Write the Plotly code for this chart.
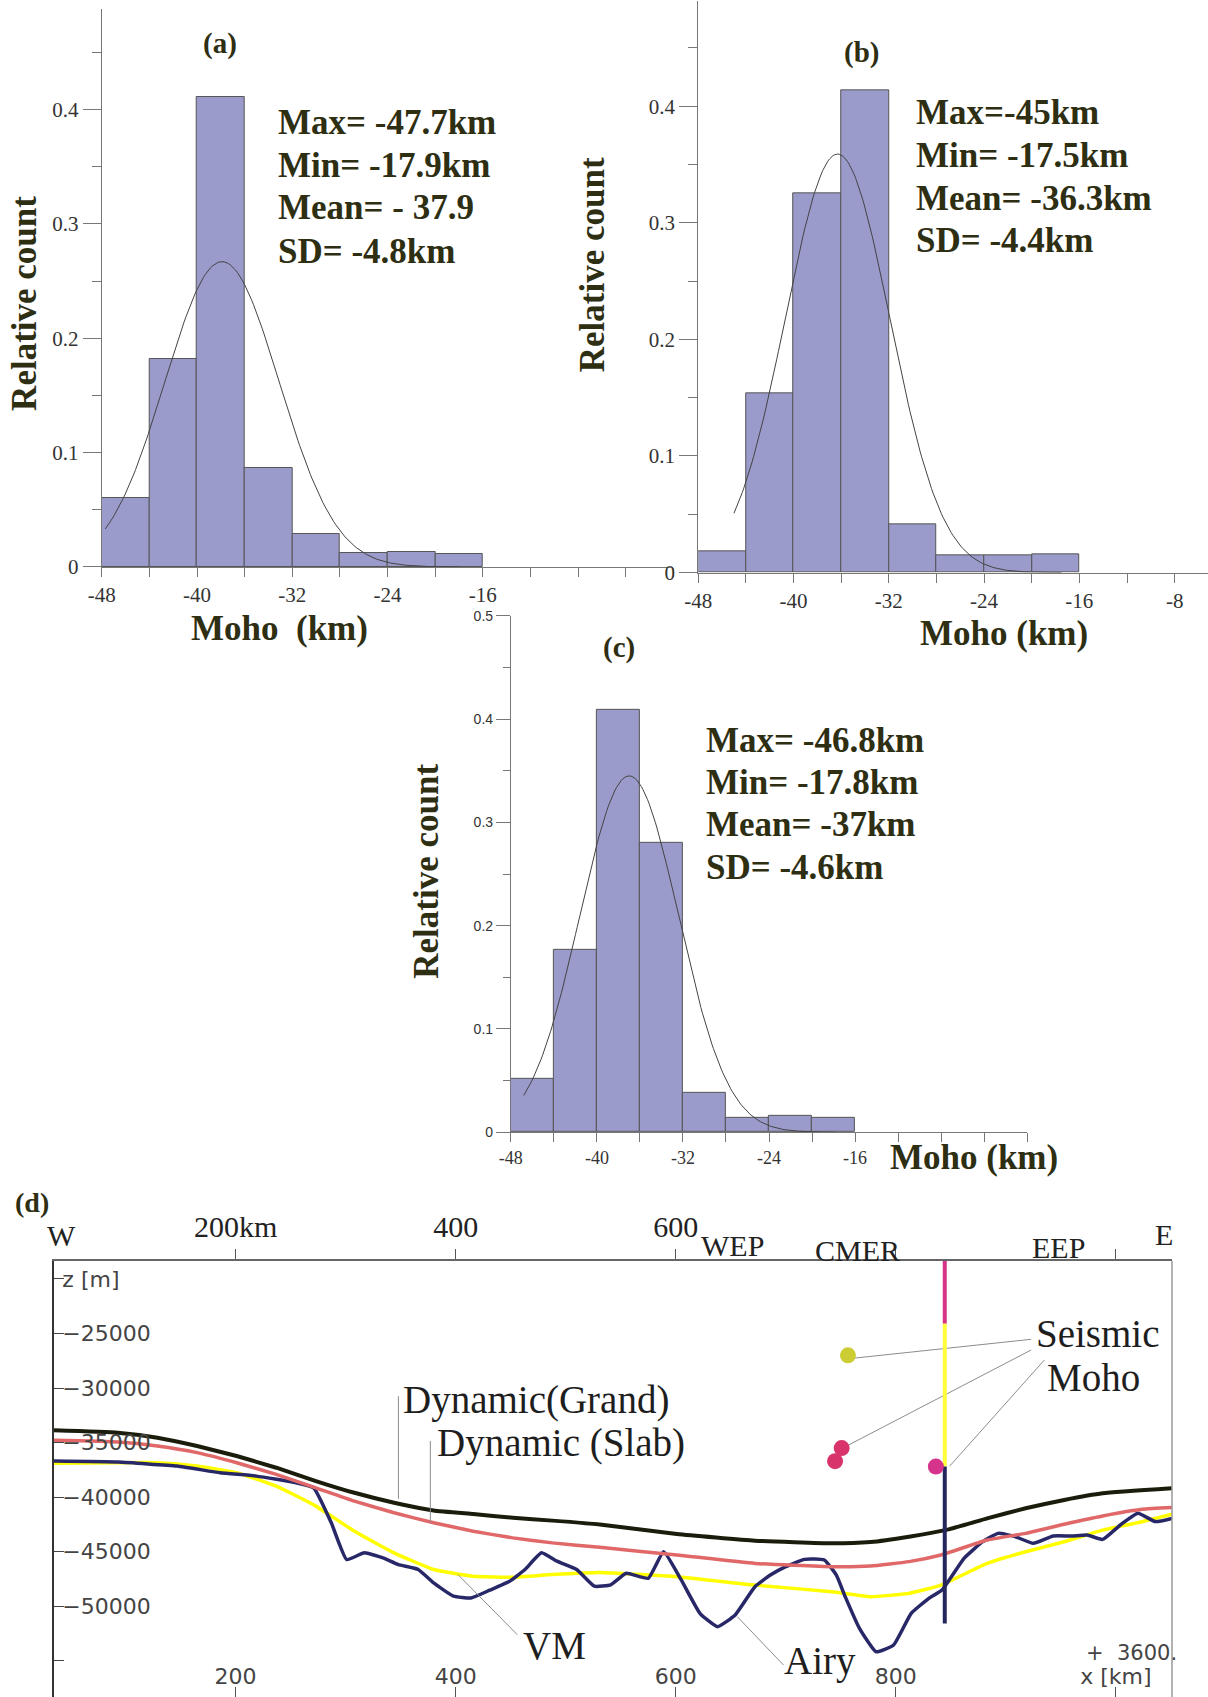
import numpy as np
import plotly.graph_objects as go

# ---------------- Histograms of Moho depth (panels a, b, c) ----------------
bin_edges = [-48, -44, -40, -36, -32, -28, -24, -20, -16]
rel_count_a = [0.060, 0.182, 0.411, 0.087, 0.029, 0.012, 0.013, 0.011]
rel_count_b = [0.018, 0.154, 0.325, 0.414, 0.041, 0.015, 0.015, 0.016]
rel_count_c = [0.052, 0.177, 0.409, 0.280, 0.038, 0.014, 0.016, 0.014]

# printed statistics (km) for a, b, c
stat_max = [-47.7, -45.0, -46.8]
stat_min = [-17.9, -17.5, -17.8]
stat_mean = [-37.9, -36.3, -37.0]
stat_sd = [4.8, 4.4, 4.6]
fit_peak = [0.267, 0.359, 0.345]          # height of the fitted normal curve

stat_lines_a = ["Max= -47.7km", "Min= -17.9km", "Mean= - 37.9", "SD= -4.8km"]
stat_lines_b = ["Max=-45km", "Min= -17.5km", "Mean= -36.3km", "SD= -4.4km"]
stat_lines_c = ["Max= -46.8km", "Min= -17.8km", "Mean= -37km", "SD= -4.6km"]

hist_ytick_vals = [0, 0.1, 0.2, 0.3, 0.4]
hist_ytick_text = ["0", "0.1", "0.2", "0.3", "0.4"]

# ---------------- Profile W-E (panel d) ----------------
grand_km = [35, 93, 129, 165, 201, 237, 273, 308, 344, 380, 416, 452, 488, 531,
            601, 672, 742, 777, 812, 848, 883, 918, 953, 988, 1051]
grand_z = [-33870, -34090, -34550, -35310, -36230, -37300, -38520, -39600, -40510,
           -41220, -41550, -41890, -42150, -42500, -43380, -43990, -44230, -44110,
           -43620, -42950, -41940, -41020, -40260, -39650, -39190]

slab_km = [35, 93, 129, 165, 201, 237, 273, 308, 344, 380, 416, 452, 488, 531,
           601, 672, 742, 777, 812, 841, 883, 918, 953, 988, 1024, 1051]
slab_z = [-34790, -34950, -35310, -35920, -36840, -37910, -39140, -40360, -41430,
          -42350, -43120, -43730, -44190, -44600, -45300, -46070, -46370, -46310,
          -45910, -45300, -43930, -43320, -42480, -41720, -41110, -40950]

vm_km = [35, 93, 129, 165, 201, 237, 273, 308, 344, 380, 416, 452, 488, 531,
         601, 672, 742, 777, 812, 841, 883, 918, 953, 988, 1024, 1051]
vm_z = [-36900, -36840, -36840, -37150, -37760, -38980, -40820, -43120, -45100,
        -46630, -47250, -47340, -47090, -46900, -47290, -48060, -48670, -49120,
        -48820, -48060, -46070, -45000, -44090, -43020, -42250, -41570]

airy_km = [35, 93, 147, 186, 219, 255, 271, 287, 301, 317, 334, 348, 366, 380,
           398, 414, 431, 449, 463, 478, 492, 510, 526, 541, 555, 575, 589, 605,
           622, 638, 654, 672, 686, 700, 717, 735, 746, 754, 767, 782, 798, 814,
           830, 842, 862, 879, 893, 907, 925, 943, 960, 974, 988, 1004, 1020,
           1036, 1051]
airy_z = [-36690, -36780, -37150, -37760, -38070, -38680, -39140, -42350, -45720,
          -45100, -45560, -46180, -46630, -47860, -49080, -49240, -48530, -47710,
          -46630, -45100, -45870, -46630, -48160, -48030, -46980, -47440, -45000,
          -47590, -50650, -51870, -50800, -48210, -47140, -46370, -45700, -45760,
          -47140, -49120, -52030, -54170, -53550, -50650, -49280, -48510, -45610,
          -44080, -43320, -43560, -44230, -43560, -43560, -43470, -43870, -42550,
          -41480, -42240, -41940]

# seismic Moho column and point estimates
column_km = 844.5
column_z_breaks = [-18300, -24100, -37200, -51570]
column_colors = ["#d63384", "#ffff3c", "#26265e"]

seis_pt_km = [756.5, 750.8, 744.8, 836.4]
seis_pt_z = [-27000, -35500, -36700, -37200]
seis_pt_colors = ["#cccc33", "#d8336a", "#d8336a", "#d6338c"]

# leader lines tying the labels to the curves
leader_km = [[348, 348], [377, 377], [402, 456], [656, 698],
             [923, 761], [923, 754], [935, 849]]
leader_z = [[-30750, -40150], [-34850, -42350], [-47090, -52600], [-50960, -55390],
            [-25530, -27270], [-26510, -35380], [-27430, -37150]]

profile_ytick_vals = [-55000, -50000, -45000, -40000, -35000, -30000, -25000, -20000]
profile_ytick_text = ["", "\u221250000", "\u221245000", "\u221240000", "\u221235000",
                      "\u221230000", "\u221225000", "z [m]"]
profile_xtick_vals = [200, 400, 600, 800, 1000]
profile_xtick_text = ["200", "400", "600", "800", "x [km]"]
profile_toptick_text = ["200km", "400", "600", "", ""]

SERIF = "Liberation Serif"
SANS = "DejaVu Sans"
TXT = "#2e2e12"
BAR_FILL = "#9a9acb"
BAR_LINE = "#555555"
AX = "#777777"

fig = go.Figure()

centers = [(bin_edges[i] + bin_edges[i + 1]) / 2 for i in range(len(bin_edges) - 1)]
hist_sets = [(rel_count_a, "x", "y"), (rel_count_b, "x2", "y2"), (rel_count_c, "x3", "y3")]
for k, (vals, xa, ya) in enumerate(hist_sets):
    fig.add_trace(go.Bar(x=centers, y=vals, width=4, xaxis=xa, yaxis=ya,
                         marker=dict(color=BAR_FILL, line=dict(color=BAR_LINE, width=1)),
                         showlegend=False, hoverinfo="skip"))
    xs = np.linspace(stat_max[k], stat_min[k], 200)
    ys = fit_peak[k] * np.exp(-((xs - stat_mean[k]) ** 2) / (2 * stat_sd[k] ** 2))
    fig.add_trace(go.Scatter(x=xs, y=ys, mode="lines", xaxis=xa, yaxis=ya,
                             line=dict(color="#444444", width=1),
                             showlegend=False, hoverinfo="skip"))

# profile curves
profile_lines = [
    (vm_km, vm_z, "#ffff00", 3.5),
    (airy_km, airy_z, "#282868", 3.5),
    (slab_km, slab_z, "#e06868", 3.5),
    (grand_km, grand_z, "#1c1c0c", 4),
]
for km, z, col, w in profile_lines:
    fig.add_trace(go.Scatter(x=km, y=z, mode="lines", xaxis="x4", yaxis="y4",
                             line=dict(color=col, width=w, shape="spline", smoothing=0.4),
                             showlegend=False, hoverinfo="skip"))

for kx, kz in zip(leader_km, leader_z):
    fig.add_trace(go.Scatter(x=kx, y=kz, mode="lines", xaxis="x4", yaxis="y4",
                             line=dict(color="#8c8c8c", width=1),
                             showlegend=False, hoverinfo="skip"))

for i, col in enumerate(column_colors):
    fig.add_trace(go.Scatter(x=[column_km, column_km],
                             y=[column_z_breaks[i], column_z_breaks[i + 1]],
                             mode="lines", xaxis="x4", yaxis="y4",
                             line=dict(color=col, width=4),
                             showlegend=False, hoverinfo="skip"))

fig.add_trace(go.Scatter(x=seis_pt_km[1:3], y=seis_pt_z[1:3], mode="lines",
                         xaxis="x4", yaxis="y4", line=dict(color="#e03030", width=3),
                         showlegend=False, hoverinfo="skip"))
fig.add_trace(go.Scatter(x=seis_pt_km, y=seis_pt_z, mode="markers", xaxis="x4", yaxis="y4",
                         marker=dict(color=seis_pt_colors, size=16, line=dict(width=0)),
                         showlegend=False, hoverinfo="skip"))

# invisible trace so the top distance axis is laid out
fig.add_trace(go.Scatter(x=[profile_xtick_vals[0]], y=[profile_ytick_vals[-1]],
                         mode="markers", xaxis="x5", yaxis="y4",
                         marker=dict(opacity=0), showlegend=False, hoverinfo="skip"))


# ---------------- axes ----------------
def hist_xaxis(domain, rng, labelled, tick_font_size, anchor):
    vals = list(range(-48, int(rng[1]) + 1, 4))
    text = [f"{v}" if v in labelled else "" for v in vals]
    return dict(domain=domain, range=rng, anchor=anchor, tickmode="array",
                tickvals=vals, ticktext=text, ticks="outside", ticklen=9,
                tickcolor=AX, showline=True, linecolor=AX, linewidth=1,
                showgrid=False, zeroline=False, automargin=False,
                tickfont=dict(family=SERIF, size=tick_font_size, color="#333333"))


def hist_yaxis(domain, rng, anchor, tickvals, ticktext, font, size, ticklen):
    minor_vals = [v + 0.05 for v in tickvals if v + 0.05 < rng[1]]
    return dict(domain=domain, range=rng, anchor=anchor, tickmode="array",
                tickvals=tickvals, ticktext=ticktext, ticks="outside", ticklen=ticklen,
                tickcolor=AX, showline=True, linecolor=AX, linewidth=1,
                showgrid=False, zeroline=False, automargin=False,
                minor=dict(tickvals=minor_vals, ticks="outside", ticklen=ticklen // 2,
                           tickcolor=AX),
                tickfont=dict(family=font, size=size, color="#333333"))


layout_axes = dict(
    xaxis=hist_xaxis([0.0842, 0.5575], [-48, 0], [-48, -40, -32, -24, -16], 21, "y"),
    yaxis=hist_yaxis([0.6659, 0.9947], [0, 0.488], "x", hist_ytick_vals, hist_ytick_text,
                     SERIF, 21, 18),
    xaxis2=hist_xaxis([0.578, 1.0], [-48, -5.2], [-48, -40, -32, -24, -16, -8], 21, "y2"),
    yaxis2=hist_yaxis([0.6626, 0.9992], [0, 0.49], "x2", hist_ytick_vals, hist_ytick_text,
                      SERIF, 21, 18),
    xaxis3=hist_xaxis([0.4229, 0.8503], [-48, 0], [-48, -40, -32, -24, -16], 18, "y3"),
    yaxis3=hist_yaxis([0.3328, 0.6371], [0, 0.5], "x3", hist_ytick_vals + [0.5],
                      hist_ytick_text + ["0.5"], "Liberation Sans", 14, 14),
    xaxis4=dict(domain=[0.0447, 0.9702], range=[35, 1051], anchor="y4",
                tickmode="array", tickvals=profile_xtick_vals, ticktext=profile_xtick_text,
                ticks="inside", ticklen=10, tickcolor="#555555",
                ticklabelposition="inside", showline=False, showgrid=False,
                zeroline=False, automargin=False,
                tickfont=dict(family=SANS, size=22, color="#444444")),
    xaxis5=dict(domain=[0.0447, 0.9702], range=[35, 1051], anchor="y4", overlaying="x4",
                side="top", tickmode="array", tickvals=profile_xtick_vals,
                ticktext=profile_toptick_text, ticks="outside", ticklen=10,
                tickcolor="#555555", showline=True, linecolor="#666666", linewidth=1.5,
                showgrid=False, zeroline=False, automargin=False, showticklabels=True,
                tickfont=dict(family=SERIF, size=30, color="#222222")),
    yaxis4=dict(domain=[0, 0.2569], range=[-58318, -18355], anchor="x4",
                tickmode="array", tickvals=profile_ytick_vals, ticktext=profile_ytick_text,
                ticks="inside", ticklen=10, tickcolor="#444444",
                ticklabelposition="inside", showline=True, linecolor="#333333",
                linewidth=1.5, showgrid=False, zeroline=False, automargin=False,
                tickfont=dict(family=SANS, size=22, color="#444444")),
)

# ---------------- text ----------------
ann = []


def bold(t):
    return f"<b>{t}</b>"


def note(text, x, y, xref, yref, size, color, family=SERIF, xanchor="center", angle=0):
    ann.append(dict(text=text, x=x, y=y, xref=xref, yref=yref, xanchor=xanchor,
                    yanchor="middle", textangle=angle, showarrow=False,
                    font=dict(family=family, size=size, color=color)))


def stats_block(lines, xref, yref, x, ys):
    for t, y in zip(lines, ys):
        note(bold(t), x, y, xref, yref, 35, TXT, xanchor="left")


stats_block(stat_lines_a, "x", "y", -33.4, [0.3888, 0.3509, 0.3140, 0.2761])
stats_block(stat_lines_b, "x2", "y2", -29.85, [0.3945, 0.3574, 0.3212, 0.2850])
stats_block(stat_lines_c, "x3", "y3", -30.09, [0.3793, 0.3384, 0.2976, 0.2567])

for t, xr, yr, x, y in [("(a)", "x", "y", -38.1, 0.4578),
                        ("(b)", "x2", "y2", -34.29, 0.4465),
                        ("(c)", "x3", "y3", -37.94, 0.4694)]:
    note(bold(t), x, y, xr, yr, 29, TXT)

for x, y in [(0.0197, 0.8214), (0.4901, 0.8437), (0.3531, 0.4866)]:
    note(bold("Relative count"), x, y, "paper", "paper", 35, TXT, angle=-90)

for t, x, y in [("Moho\u00a0 (km)", 0.2312, 0.6294), ("Moho (km)", 0.8315, 0.6269),
                ("Moho (km)", 0.8065, 0.3182)]:
    note(bold(t), x, y, "paper", "paper", 35, TXT)

note(bold("(d)"), 0.0269, 0.2914, "paper", "paper", 28, TXT)

for t, x, y in [("W", 0.0511, 0.2722), ("WEP", 0.6066, 0.2658), ("CMER", 0.7097, 0.2633),
                ("EEP", 0.8763, 0.2646), ("E", 0.9632, 0.2728)]:
    note(t, x, y, "paper", "paper", 30, "#222222")

for t, x, y, anchor in [("Dynamic(Grand)", 349.9, -31050, "left"),
                        ("Dynamic (Slab)", 381.3, -35020, "left"),
                        ("VM", 489.5, -53570, "center"),
                        ("Airy", 731.5, -55060, "center"),
                        ("Seismic", 984.2, -25000, "center"),
                        ("Moho", 979.3, -29070, "center")]:
    note(t, x, y, "x4", "y4", 39, "#1e1e1e", xanchor=anchor)

note("+\u00a0 3600.", 0.9363, 0.0260, "paper", "paper", 21, "#444444", family=SANS)

fig.update_layout(
    width=1208, height=1697,
    margin=dict(l=0, r=0, t=0, b=0, pad=0, autoexpand=False),
    paper_bgcolor="white", plot_bgcolor="rgba(0,0,0,0)",
    bargap=0, showlegend=False,
    annotations=ann,
    shapes=[dict(type="line", xref="paper", yref="paper", x0=0.9702, x1=0.9702,
                 y0=0, y1=0.2569, line=dict(color="#999999", width=1.5))],
    **layout_axes,
)

fig.write_html("out.html")
